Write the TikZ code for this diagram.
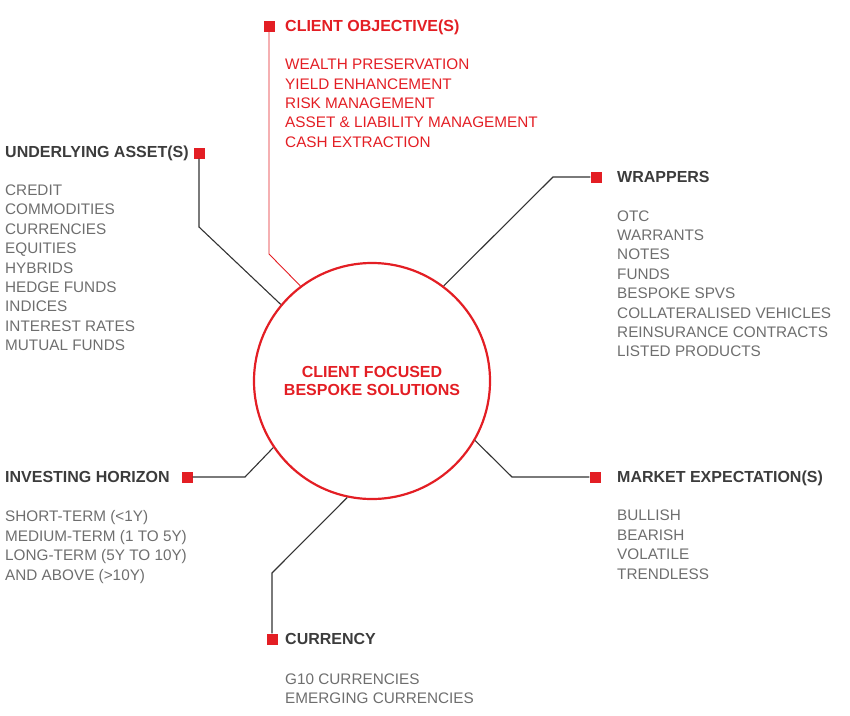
\documentclass[tikz,border=0pt]{standalone}
\usepackage{fontspec}
\setmainfont{Liberation Sans}
\usetikzlibrary{positioning}
\definecolor{hubred}{HTML}{E31E24}
\definecolor{headgray}{HTML}{3C3C3C}
\definecolor{itemgray}{HTML}{6E6E6E}
\definecolor{linegray}{HTML}{333333}

\begin{document}
\begin{tikzpicture}[
  x=1pt,y=-1pt,
  every node/.style={inner sep=0pt},
  hub/.style={circle,draw=hubred,line width=2.2pt,minimum size=236pt,align=center,text=hubred,font=\fontsize{16}{18.5}\selectfont\bfseries},
  sq/.style={fill=hubred,minimum size=11pt},
  head/.style={anchor=base west,font=\fontsize{16}{19}\selectfont\bfseries,text=headgray},
  items/.style={anchor=base west,align=left,font=\fontsize{15.3}{19.4}\selectfont,text=itemgray},
  link/.style={draw=linegray,line width=1.1pt},
  redlink/.style={draw=hubred,line width=0.9pt}
]
  \useasboundingbox (0,0) rectangle (850,715);

  % Centre circle
  \node[hub] (hub) at (372,381) {CLIENT FOCUSED\\BESPOKE SOLUTIONS};

  % Red squares (end of each connector)
  \node[sq] (obj_sq) at (269,26)  {};
  \node[sq] (und_sq) at (199,153) {};
  \node[sq] (wrp_sq) at (596,177) {};
  \node[sq] (mkt_sq) at (595,477) {};
  \node[sq] (inv_sq) at (187,477) {};
  \node[sq] (cur_sq) at (272,639) {};

  % Bends of the connectors
  \coordinate (obj_bend) at (269,254);
  \coordinate (und_bend) at (199,227);
  \coordinate (wrp_bend) at (553,177);
  \coordinate (mkt_bend) at (512,477);
  \coordinate (inv_bend) at (245,477);
  \coordinate (cur_bend) at (272,573);

  % Connectors
  \draw[redlink] (hub.127)  -- (obj_bend) -- (obj_sq);
  \draw[link]    (hub.140)  -- (und_bend) -- (und_sq);
  \draw[link]    (hub.53.5) -- (wrp_bend) -- (wrp_sq);
  \draw[link]    (hub.-30)  -- (mkt_bend) -- (mkt_sq);
  \draw[link]    (hub.214.5) -- (inv_bend) -- (inv_sq);
  \draw[link]    (hub.258)  -- (cur_bend) -- (cur_sq);

  % Headings
  \node[head,text=hubred] (obj_lbl) at (285,31.7)  {CLIENT OBJECTIVE(S)};
  \node[head] (und_lbl) at (5,157.7)   {UNDERLYING ASSET(S)};
  \node[head] (wrp_lbl) at (617,182.7) {WRAPPERS};
  \node[head] (mkt_lbl) at (617,482.7) {MARKET EXPECTATION(S)};
  \node[head] (inv_lbl) at (5,482.7)   {INVESTING HORIZON};
  \node[head] (cur_lbl) at (285,644.7) {CURRENCY};

  % Lists under the headings (placed by the baseline of their last line)
  \node[items,text=hubred] (obj_list) at (285,147.3) {WEALTH PRESERVATION\\YIELD ENHANCEMENT\\RISK MANAGEMENT\\ASSET \& LIABILITY MANAGEMENT\\CASH EXTRACTION};
  \node[items] (und_list) at (5,350.6) {CREDIT\\COMMODITIES\\CURRENCIES\\EQUITIES\\HYBRIDS\\HEDGE FUNDS\\INDICES\\INTEREST RATES\\MUTUAL FUNDS};
  \node[items] (wrp_list) at (617,356.8) {OTC\\WARRANTS\\NOTES\\FUNDS\\BESPOKE SPVS\\COLLATERALISED VEHICLES\\REINSURANCE CONTRACTS\\LISTED PRODUCTS};
  \node[items] (mkt_list) at (617,579) {BULLISH\\BEARISH\\VOLATILE\\TRENDLESS};
  \node[items] (inv_list) at (5,580) {SHORT-TERM (<1Y)\\MEDIUM-TERM (1 TO 5Y)\\LONG-TERM (5Y TO 10Y)\\AND ABOVE (>10Y)};
  \node[items] (cur_list) at (285,703.7) {G10 CURRENCIES\\EMERGING CURRENCIES};
\end{tikzpicture}
\end{document}
